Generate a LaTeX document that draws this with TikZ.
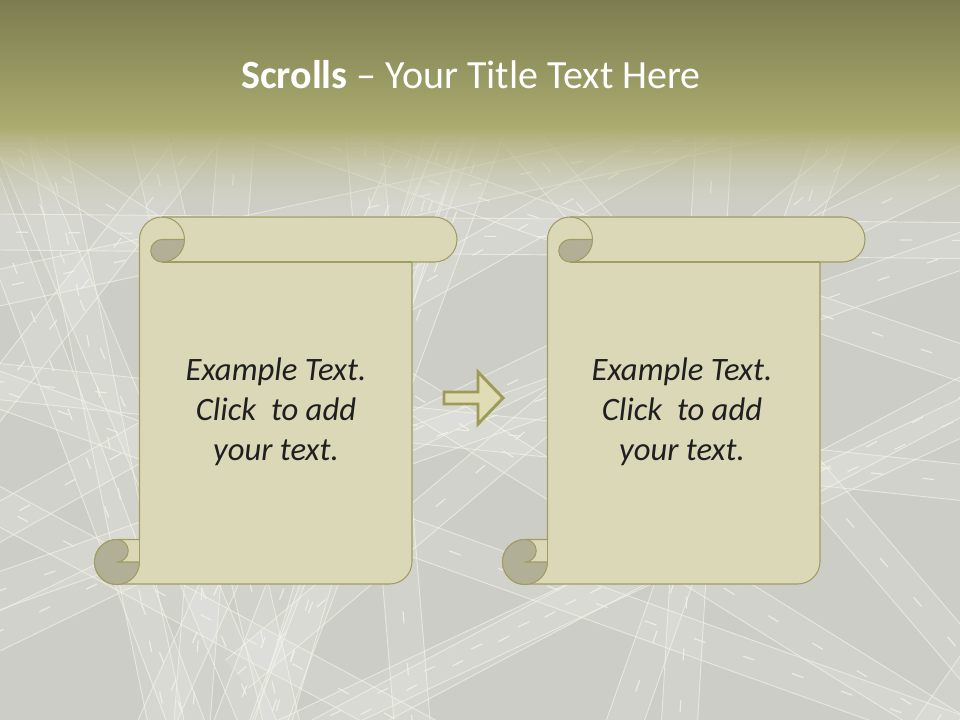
\documentclass[tikz,border=0pt]{standalone}
\usepackage{fontspec}
\setmainfont{Carlito}
\definecolor{bgGray}{RGB}{205,205,199}
\definecolor{hdrTop}{RGB}{124,124,80}
\definecolor{hdrBot}{RGB}{172,172,112}
\definecolor{paleFade}{RGB}{214,214,202}
\definecolor{scrollLight}{RGB}{219,216,183}
\definecolor{scrollDark}{RGB}{177,176,151}
\definecolor{scrollEdge}{RGB}{160,156,98}
\definecolor{arrowFill}{RGB}{224,221,182}
\definecolor{arrowEdge}{RGB}{158,155,86}
\definecolor{roadLine}{RGB}{242,242,230}
\tikzset{
  scrollbody/.style={fill=scrollLight, draw=scrollEdge, line width=0.8pt, line join=round},
  scrollcurl/.style={fill=scrollDark, draw=scrollEdge, line width=0.8pt, line join=round},
  scrolledge/.style={draw=scrollEdge, line width=0.8pt},
  bodytext/.style={font=\fontsize{24.5}{30}\selectfont\itshape, align=center, text=black!88, inner sep=0pt},
  titletext/.style={font=\fontsize{30}{36}\selectfont, text=white, inner sep=0pt},
  blockarrow/.style={fill=arrowFill, draw=arrowEdge, line width=2.2pt, line join=miter},
}
\newcommand\ScrollShape{%
  \path[scrollbody] (117,584) -- (389.5,584) arc[start angle=90,end angle=0,radius=22.5]
    -- (412,262) -- (434.5,262) arc[start angle=90,end angle=-90,radius=22.5]
    -- (162,217) arc[start angle=270,end angle=180,radius=22.5]
    -- (139.5,539.5) -- (117,539.5) arc[start angle=270,end angle=90,radius=22.5] -- cycle;
  \draw[scrolledge] (162,262) -- (412,262);
  \draw[scrolledge] (162,217) arc[start angle=270,end angle=360,radius=22.5];
  \path[scrollcurl] (162,239.5) -- (184.5,239.5) arc[start angle=0,end angle=90,radius=22.5]
    arc[start angle=90,end angle=270,radius=11.25] -- cycle;
  \draw[scrolledge] (139.5,539.5) -- (139.5,562);
  \path[scrollcurl] (117,539.5) arc[start angle=270,end angle=90,radius=22.5]
    arc[start angle=90,end angle=0,radius=22.5] -- (117,562)
    arc[start angle=90,end angle=-90,radius=11.25] -- cycle;
}
\begin{document}
\begin{tikzpicture}[x=0.75pt,y=-0.75pt]
\useasboundingbox (0,0) rectangle (960,720);
\fill[bgGray] (0,0) rectangle (960,720);
% road texture
\pgfmathsetseed{42}
\begin{scope}
  \clip (0,0) rectangle (960,720);
  \foreach \i in {1,...,30}{
    \pgfmathsetmacro\cx{rnd*960}
    \pgfmathsetmacro\cy{rnd*720}
    \pgfmathsetmacro\ang{rnd*180}
    \begin{scope}[shift={(\cx,\cy)}, rotate=\ang]
      \fill[white, opacity=0.10] (-900,-18) rectangle (900,18);
      \draw[roadLine, opacity=0.7, line width=0.7pt] (-900,-18) -- (900,-18) (-900,18) -- (900,18);
      \draw[roadLine, opacity=0.8, line width=0.9pt, dash pattern=on 9pt off 30pt] (-900,0) -- (900,0);
    \end{scope}
  }
\end{scope}
% header
\fill[top color=hdrTop, bottom color=hdrBot] (0,0) rectangle (960,128);
\foreach \k in {0,...,44}{
  \pgfmathsetmacro\yy{127+2*\k}
  \pgfmathsetmacro\op{1-\k/45}
  \pgfmathsetmacro\mx{100-\k*100/45}
  \fill[hdrBot!\mx!paleFade, opacity=\op] (0,\yy) rectangle (960,\yy+2.2);
}
\node[titletext] (title) at (471,75) {\textbf{Scrolls} – Your Title Text Here};
% scrolls
\ScrollShape
\begin{scope}[xshift=306pt]
  \ScrollShape
\end{scope}
\node[bodytext] (t1) at (276,412) {Example Text.\\Click\ \ to add\\your text.};
\node[bodytext] (t2) at (682,412) {Example Text.\\Click\ \ to add\\your text.};
% arrow
\coordinate (arrtail) at (444,398);
\coordinate (arrtip) at (503,398);
\path[blockarrow] (444,392) -- (478,392) -- (478,372) -- (arrtip) -- (478,424) -- (478,404) -- (444,404) -- cycle;
\end{tikzpicture}
\end{document}
